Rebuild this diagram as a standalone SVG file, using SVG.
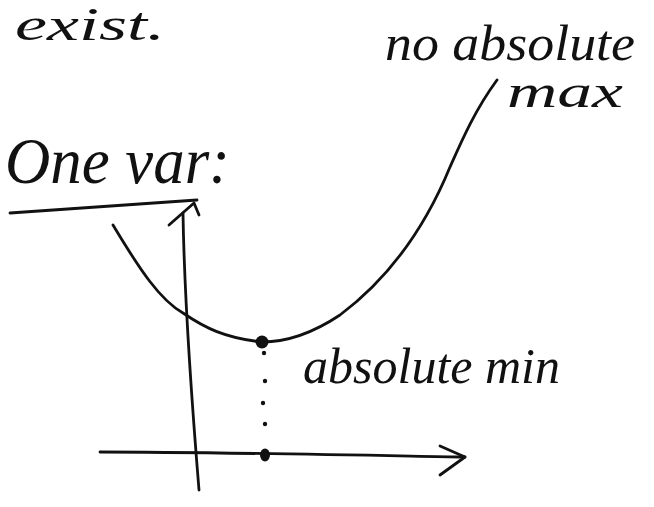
<svg xmlns="http://www.w3.org/2000/svg" width="654" height="507" viewBox="0 0 654 507">
<style>
.ink{fill:none;stroke:#111;stroke-width:2.8;stroke-linecap:round;stroke-linejoin:round}
.hand{font-family:"Liberation Serif","DejaVu Serif",serif;font-style:italic;fill:#111}
</style>
<rect width="654" height="507" fill="#fff"/>
<g id="text-exist"><text class="hand" x="15" y="40" font-size="46" textLength="150" lengthAdjust="spacingAndGlyphs">exist.</text></g>
<g id="text-noabs"><text class="hand" x="385" y="60" font-size="50" textLength="250" lengthAdjust="spacingAndGlyphs">no absolute</text></g>
<g id="text-max"><text class="hand" x="507" y="107" font-size="46" textLength="116" lengthAdjust="spacingAndGlyphs">max</text></g>
<g id="text-onevar"><text class="hand" x="5" y="183" font-size="66" textLength="225" lengthAdjust="spacingAndGlyphs">One var:</text></g>
<g id="text-absmin"><text class="hand" x="303" y="383" font-size="50" textLength="257" lengthAdjust="spacingAndGlyphs">absolute min</text></g>
<g id="underline"><path class="ink" d="M10 213 L197 200"/></g>
<g id="axes">
<path class="ink" d="M183 213 C184 280 190 380 199 490"/>
<path class="ink" d="M169 225 L194 203 L199 215"/>
<path class="ink" d="M100 452 C200 452 350 455 465 457"/>
<path class="ink" d="M440 446 L465 457 L440 475"/>
</g>
<g id="curve">
<path class="ink" d="M113 225 C140 270 160 300 183 313 C205 328 225 338 262 342 C285 342 310 335 340 315 C380 285 420 240 450 167 C462 140 475 110 497 80"/>
</g>
<g id="points">
<circle cx="262" cy="342" r="6.5" fill="#111"/>
<circle cx="264" cy="353" r="2.2" fill="#111"/>
<circle cx="265" cy="381" r="2.2" fill="#111"/>
<circle cx="263" cy="403" r="2.2" fill="#111"/>
<circle cx="265" cy="424" r="2.2" fill="#111"/>
<ellipse cx="265" cy="455" rx="5" ry="6.5" fill="#111"/>
</g>
</svg>
